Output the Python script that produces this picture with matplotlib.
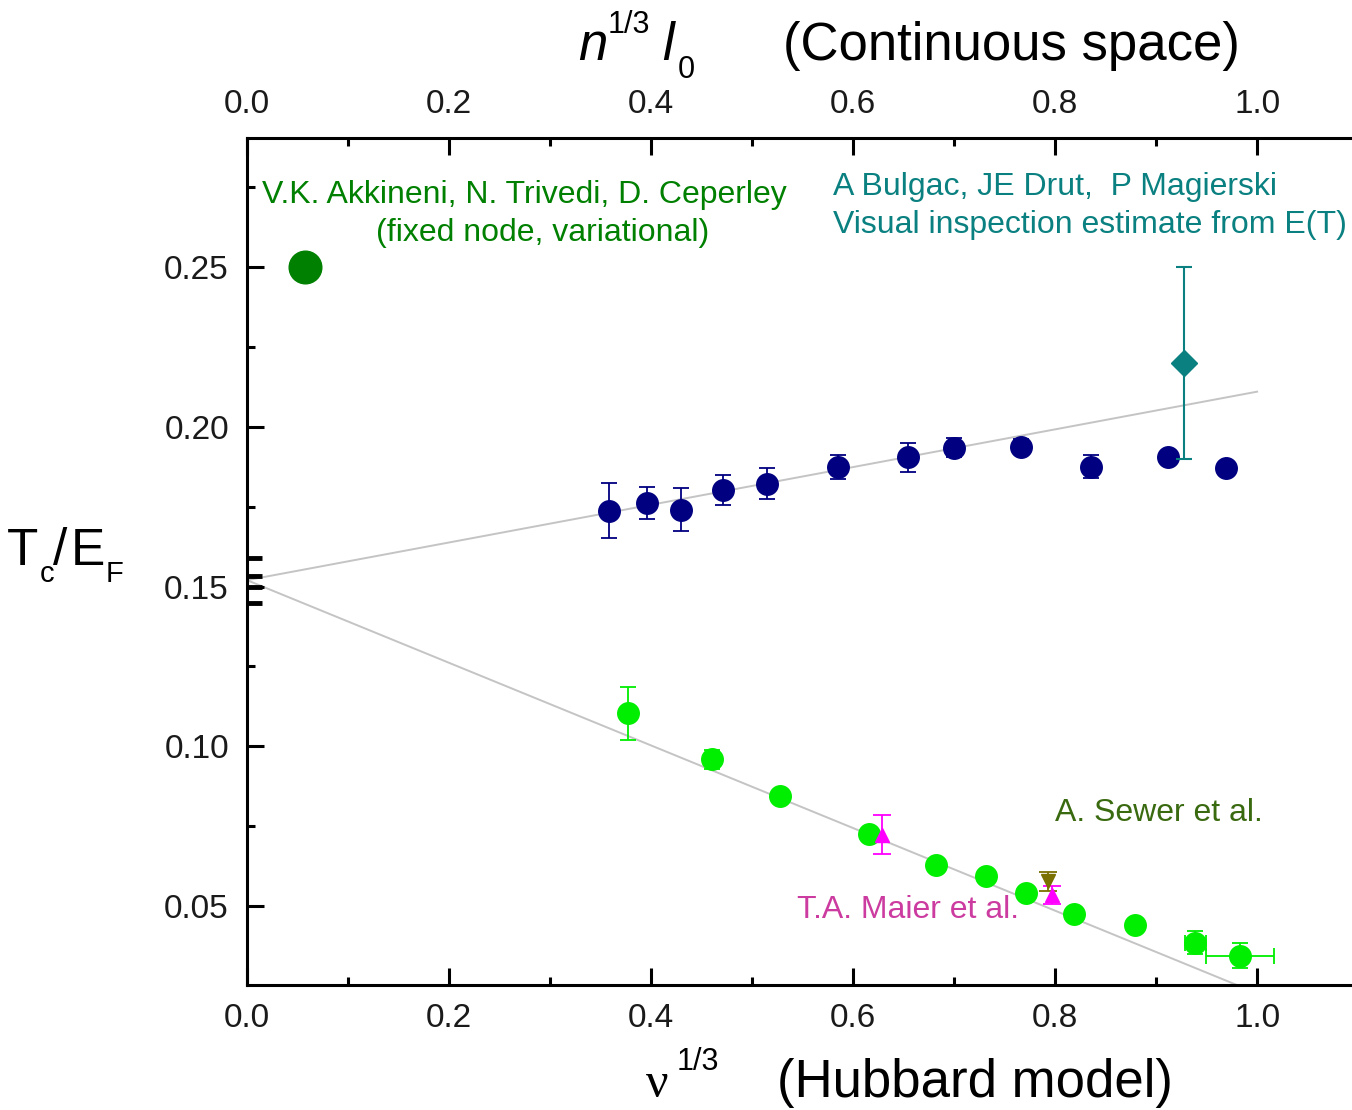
import numpy as np
from matplotlib import pyplot as plt
from matplotlib.ticker import MultipleLocator

plt.rcParams["font.family"] = "Liberation Sans"

# Hubbard model, upper branch (dark blue)
x_up = np.array([0.358, 0.396, 0.430, 0.471, 0.515, 0.585, 0.654, 0.700, 0.766, 0.836, 0.912, 0.969])
y_up = np.array([0.1738, 0.1763, 0.1741, 0.1803, 0.1822, 0.1875, 0.1904, 0.1935, 0.1938, 0.1875, 0.1907, 0.1872])
e_up = np.array([0.0086, 0.0050, 0.0067, 0.0047, 0.0048, 0.0038, 0.0044, 0.0030, 0.0024, 0.0036, 0.0, 0.0])

# lower branch (bright green)
x_lo = np.array([0.377, 0.460, 0.528, 0.616, 0.682, 0.732, 0.771, 0.819, 0.879, 0.939, 0.983])
y_lo = np.array([0.1103, 0.0959, 0.0843, 0.0727, 0.0630, 0.0593, 0.0540, 0.0474, 0.0442, 0.0386, 0.0345])
e_lo = np.array([0.0083, 0.0030, 0.0, 0.0, 0.0, 0.0, 0.0, 0.0, 0.0, 0.0037, 0.0040])
ex_lo = np.array([0.0, 0.0, 0.0, 0.0, 0.0, 0.0, 0.0, 0.0, 0.0, 0.0107, 0.034])

# Maier et al. (magenta), Sewer et al. (olive)
x_maier = [0.629, 0.797]
y_maier = [0.0724, 0.0536]
e_maier = [0.0060, 0.0028]
x_sewer = [0.793]
y_sewer = [0.0577]
e_sewer = [0.0030]

# Bulgac, Drut, Magierski
x_bdm = [0.928]
y_bdm = [0.22]
e_bdm = [0.03]

# Akkineni, Trivedi, Ceperley
x_atc = [0.057]
y_atc = [0.25]

# extrapolated values at zero density
y_zero = [0.152, 0.1517]
e_zero = [0.007, 0.0017]

# guide lines
fit_up_x = [0.0, 1.0]
fit_up_y = [0.152, 0.211]
fit_lo_x = [0.0, 0.98]
fit_lo_y = [0.152, 0.0253]

W, H = 1352, 1110
fig = plt.figure(figsize=(W / 100, H / 100), dpi=100)
ax = fig.add_axes([0.1827, 0.1126, 0.8218, 0.7631])
ax.set_xlim(0, 1.1)
ax.set_ylim(0.0253, 0.2904)

ax.plot(fit_up_x, fit_up_y, color="#c4c4c4", lw=1.4, zorder=1)
ax.plot(fit_lo_x, fit_lo_y, color="#c4c4c4", lw=1.4, zorder=1)

m = e_up > 0
ax.errorbar(x_up[m], y_up[m], yerr=e_up[m], fmt="none", ecolor="#000080", elinewidth=1.3, capsize=6, capthick=1.3, zorder=2)
ax.plot(x_up, y_up, "o", color="#000080", ms=15.5, zorder=3)

m = (e_lo > 0) | (ex_lo > 0)
ax.errorbar(x_lo[m], y_lo[m], yerr=e_lo[m], xerr=ex_lo[m], fmt="none", ecolor="#00ee00", elinewidth=1.3, capsize=6, capthick=1.3, zorder=2)
ax.plot(x_lo, y_lo, "o", color="#00ee00", ms=15.5, zorder=3)

ax.errorbar(x_maier, y_maier, yerr=e_maier, fmt="^", color="#ff00ff", ms=10, elinewidth=1.3, capsize=6.5, capthick=1.3, zorder=4)
ax.errorbar(x_sewer, y_sewer, yerr=e_sewer, fmt="v", color="#7a7000", ms=10, elinewidth=1.3, capsize=6.5, capthick=1.3, zorder=4)
ax.errorbar(x_bdm, y_bdm, yerr=e_bdm, fmt="D", color="#0a8080", ms=13.5, elinewidth=1.5, capsize=6, capthick=1.5, zorder=4)
ax.plot(x_atc, y_atc, "o", color="#008000", ms=23.5, zorder=4)

ax.errorbar([0, 0], y_zero, yerr=e_zero, fmt="none", ecolor="black", elinewidth=2, capsize=11, capthick=3.5, zorder=5)

ax.text(0.275, 0.2725, "V.K. Akkineni, N. Trivedi, D. Ceperley", color="#008000", fontsize=23, ha="center", va="center")
ax.text(0.293, 0.2606, "(fixed node, variational)", color="#008000", fontsize=23, ha="center", va="center")
ax.text(0.580, 0.2750, "A Bulgac, JE Drut,  P Magierski", color="#0a8080", fontsize=23, ha="left", va="center")
ax.text(0.580, 0.2631, "Visual inspection estimate from E(T)", color="#0a8080", fontsize=23, ha="left", va="center")
ax.text(0.800, 0.0790, "A. Sewer et al.", color="#3a6a10", fontsize=23, ha="left", va="center")
ax.text(0.545, 0.0489, "T.A. Maier et al.", color="#cc3ca0", fontsize=23, ha="left", va="center")

ax.xaxis.set_major_locator(MultipleLocator(0.2))
ax.xaxis.set_minor_locator(MultipleLocator(0.1))
ax.yaxis.set_major_locator(MultipleLocator(0.05))
ax.yaxis.set_minor_locator(MultipleLocator(0.025))
ax.xaxis.set_major_formatter(plt.FormatStrFormatter("%.1f"))
ax.yaxis.set_major_formatter(plt.FormatStrFormatter("%.2f"))
ax.tick_params(which="both", direction="in", width=2.2, top=True, labeltop=True, right=False,
               labelsize=24, labelcolor="#1a1a1a")
ax.tick_params(which="major", length=12)
ax.tick_params(which="minor", length=6)
ax.tick_params(axis="x", which="major", pad=13)
ax.tick_params(axis="y", which="major", pad=13)
for s in ax.spines.values():
    s.set_linewidth(2.2)

# axis titles, built piece by piece (pixel positions of the reference)
def ftext(px, py, s, size, **kw):
    fig.text(px / W, 1 - py / H, s, fontsize=size, ha="left", va="baseline", **kw)

ftext(578, 60, "n", 38, style="italic")
ftext(608, 33, "1/3", 22)
ftext(662, 60, "l", 38, style="italic")
ftext(678, 78, "0", 22)
ftext(783, 60, "(Continuous space)", 38)

ftext(646, 1097, "ν", 36, family="Liberation Serif")
ftext(677, 1070, "1/3", 22)
ftext(777, 1097, "(Hubbard model)", 38)

ftext(7, 565, "T", 37)
ftext(40, 582, "c", 21)
ftext(53, 565, "/", 37)
ftext(71, 565, "E", 37)
ftext(106, 582, "F", 21)

plt.savefig("out.png", dpi=100)
